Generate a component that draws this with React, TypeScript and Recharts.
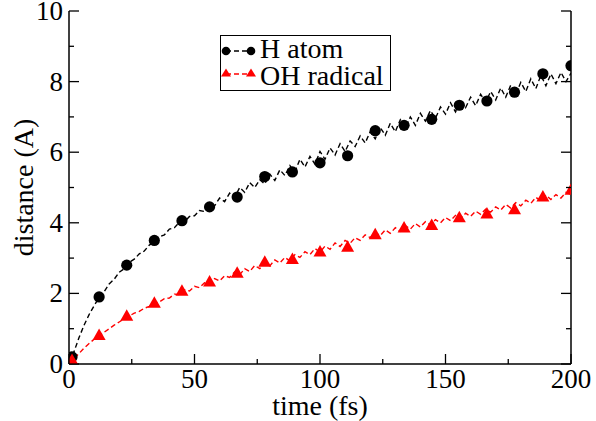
import React from 'react';
import { ComposedChart, Line, Scatter, XAxis, YAxis, Legend } from 'recharts';

const FONT = '"Liberation Serif"';
const TXT = { fontFamily: FONT };

const times = [0, 2, 4, 6, 8, 10, 12, 14, 16, 18, 20, 22, 24, 26, 28, 30, 32, 34, 36, 38, 40, 42, 44, 46, 48, 50, 52, 54, 56, 58, 60, 62, 64, 66, 68, 70, 72, 74, 76, 78, 80, 82, 84, 86, 88, 90, 92, 94, 96, 98, 100, 102, 104, 106, 108, 110, 112, 114, 116, 118, 120, 122, 124, 126, 128, 130, 132, 134, 136, 138, 140, 142, 144, 146, 148, 150, 152, 154, 156, 158, 160, 162, 164, 166, 168, 170, 172, 174, 176, 178, 180, 182, 184, 186, 188, 190, 192, 194, 196, 198, 200];

const hAtomLine = [0.05, 0.35, 0.75, 1.1, 1.4, 1.65, 1.88, 2.05, 2.27, 2.4, 2.6, 2.7, 2.88, 2.97, 3.12, 3.2, 3.37, 3.46, 3.6, 3.66, 3.82, 3.86, 4.02, 4.03, 4.18, 4.2, 4.35, 4.32, 4.5, 4.48, 4.7, 4.6, 4.84, 4.72, 5.0, 4.86, 5.14, 5.0, 5.22, 5.1, 5.38, 5.2, 5.5, 5.34, 5.62, 5.44, 5.8, 5.58, 5.88, 5.66, 6.02, 5.8, 6.12, 5.92, 6.24, 6.02, 6.32, 6.16, 6.46, 6.26, 6.58, 6.38, 6.7, 6.48, 6.82, 6.58, 6.92, 6.68, 7.0, 6.76, 7.1, 6.88, 7.18, 6.96, 7.28, 7.08, 7.4, 7.14, 7.46, 7.26, 7.56, 7.32, 7.64, 7.42, 7.72, 7.48, 7.82, 7.56, 7.9, 7.64, 7.98, 7.72, 8.08, 7.8, 8.18, 7.88, 8.22, 7.94, 8.26, 8.0, 8.24];

const ohLine = [0.0, 0.15, 0.3, 0.45, 0.58, 0.7, 0.8, 0.9, 1.0, 1.1, 1.19, 1.28, 1.36, 1.44, 1.49, 1.58, 1.63, 1.72, 1.76, 1.85, 1.87, 1.98, 1.97, 2.1, 2.07, 2.2, 2.16, 2.3, 2.27, 2.42, 2.35, 2.5, 2.45, 2.61, 2.53, 2.7, 2.62, 2.79, 2.7, 2.86, 2.78, 2.95, 2.86, 3.02, 2.92, 3.1, 3.02, 3.18, 3.1, 3.27, 3.17, 3.34, 3.25, 3.43, 3.33, 3.5, 3.42, 3.58, 3.5, 3.66, 3.58, 3.72, 3.64, 3.8, 3.7, 3.86, 3.76, 3.92, 3.82, 3.98, 3.88, 4.03, 3.94, 4.09, 4.0, 4.15, 4.06, 4.21, 4.12, 4.27, 4.18, 4.33, 4.24, 4.39, 4.3, 4.45, 4.36, 4.52, 4.42, 4.57, 4.48, 4.64, 4.55, 4.72, 4.62, 4.78, 4.66, 4.8, 4.7, 4.86, 4.8];

const markerTimes = [1.2, 12, 23, 34, 45, 56, 67, 78, 89, 100, 111, 122, 133.5, 144.5, 155.5, 166.5, 177.5, 188.8, 200];
const hAtomMarkers = [0.2, 1.9, 2.8, 3.5, 4.06, 4.45, 4.73, 5.31, 5.44, 5.7, 5.9, 6.61, 6.76, 6.93, 7.33, 7.45, 7.7, 8.22, 8.45];
const ohMarkers = [0.1, 0.81, 1.35, 1.72, 2.06, 2.32, 2.57, 2.88, 2.96, 3.17, 3.31, 3.66, 3.85, 3.92, 4.14, 4.25, 4.37, 4.73, 4.92];

const xTicks = [0, 25, 50, 75, 100, 125, 150, 175, 200];
const xMajor = [0, 50, 100, 150, 200];
const yTicks = [0, 1, 2, 3, 4, 5, 6, 7, 8, 9, 10];
const yMajor = [0, 2, 4, 6, 8, 10];
const seriesNames = ['H atom', 'OH radical'];
const xLabel = 'time (fs)';
const yLabel = 'distance (A)';

const lineData = times.map((t, i) => ({ t, h: hAtomLine[i], oh: ohLine[i] }));
const hMarkerData = markerTimes.map((t, i) => ({ t, v: hAtomMarkers[i] }));
const ohMarkerData = markerTimes.map((t, i) => ({ t, v: ohMarkers[i] }));

const MAJ = 10;
const MIN = 5;

const BottomTick = (props: any) => {
  const { x, y, payload } = props;
  const major = xMajor.includes(payload.value);
  return (
    <g>
      <line x1={x} y1={y} x2={x} y2={y - (major ? MAJ : MIN)} stroke="#000" strokeWidth={1.3} />
      {major && (
        <text x={x} y={y + 24} textAnchor="middle" fontSize={27} style={TXT} fill="#000">
          {payload.value}
        </text>
      )}
    </g>
  );
};

const TopTick = (props: any) => {
  const { x, y, payload } = props;
  const major = xMajor.includes(payload.value);
  return <line x1={x} y1={y} x2={x} y2={y + (major ? MAJ : MIN)} stroke="#000" strokeWidth={1.3} />;
};

const LeftTick = (props: any) => {
  const { x, y, payload } = props;
  const major = yMajor.includes(payload.value);
  return (
    <g>
      <line x1={x} y1={y} x2={x + (major ? MAJ : MIN)} y2={y} stroke="#000" strokeWidth={1.3} />
      {major && (
        <text x={x - 6} y={y + 9} textAnchor="end" fontSize={27} style={TXT} fill="#000">
          {payload.value}
        </text>
      )}
    </g>
  );
};

const RightTick = (props: any) => {
  const { x, y, payload } = props;
  const major = yMajor.includes(payload.value);
  return <line x1={x} y1={y} x2={x - (major ? MAJ : MIN)} y2={y} stroke="#000" strokeWidth={1.3} />;
};

const CircleMark = (props: any) => {
  const { cx, cy } = props;
  return <circle cx={cx} cy={cy} r={5.6} fill="#000" />;
};

const TriMark = (props: any) => {
  const { cx, cy } = props;
  return <polygon points={`${cx},${cy - 7} ${cx - 6.5},${cy + 4.5} ${cx + 6.5},${cy + 4.5}`} fill="#ff0000" />;
};

const XLabelContent = (props: any) => {
  const vb = props.viewBox || { x: 69, y: 364, width: 502, height: 57 };
  return (
    <text x={vb.x + vb.width / 2} y={vb.y + 51} textAnchor="middle" fontSize={28} style={TXT} fill="#000">
      {xLabel}
    </text>
  );
};

const YLabelContent = (props: any) => {
  const vb = props.viewBox || { x: 0, y: 11, width: 69, height: 353 };
  const cy = vb.y + vb.height / 2;
  return (
    <text
      x={33}
      y={cy}
      transform={`rotate(-90, 33, ${cy})`}
      textAnchor="middle"
      fontSize={28}
      style={TXT}
      fill="#000"
    >
      {yLabel}
    </text>
  );
};

const LegendContent = () => (
  <svg width={172} height={57} style={{ display: 'block' }}>
    <rect x={0.5} y={0.5} width={170} height={55} fill="#fff" stroke="#000" strokeWidth={1} />
    <line x1={6} y1={16} x2={31} y2={16} stroke="#000" strokeWidth={1.3} strokeDasharray="5 3" />
    <circle cx={6} cy={16} r={4.3} fill="#000" />
    <circle cx={31} cy={16} r={4.3} fill="#000" />
    <text x={40} y={23} fontSize={28} style={TXT} fill="#000">{seriesNames[0]}</text>
    <line x1={6} y1={39} x2={31} y2={39} stroke="#ff0000" strokeWidth={1.3} strokeDasharray="5 3" />
    <polygon points="6,33.5 1,41.5 11,41.5" fill="#ff0000" />
    <polygon points="31,33.5 26,41.5 36,41.5" fill="#ff0000" />
    <text x={40} y={50} fontSize={28} style={TXT} fill="#000">{seriesNames[1]}</text>
  </svg>
);

export default function App() {
  return (
    <div style={{ position: 'absolute', left: 0, top: 0, width: 596, height: 421, background: '#fff', fontFamily: FONT }}>
      <ComposedChart
        width={596}
        height={421}
        data={lineData}
        margin={{ top: 11, right: 0, bottom: 0, left: 0 }}
      >
        <XAxis
          dataKey="t"
          type="number"
          domain={[0, 200]}
          ticks={xTicks}
          interval={0}
          allowDataOverflow
          height={57}
          tickSize={0}
          tickMargin={0}
          tickLine={false}
          tick={<BottomTick />}
          axisLine={{ stroke: '#000', strokeWidth: 1.5 }}
          label={{ content: <XLabelContent /> }}
        />
        <XAxis
          xAxisId="top"
          orientation="top"
          dataKey="t"
          type="number"
          domain={[0, 200]}
          ticks={xTicks}
          interval={0}
          allowDataOverflow
          height={0}
          tickSize={0}
          tickMargin={0}
          tickLine={false}
          tick={<TopTick />}
          axisLine={{ stroke: '#000', strokeWidth: 1.5 }}
        />
        <YAxis
          type="number"
          domain={[0, 10]}
          ticks={yTicks}
          interval={0}
          allowDataOverflow
          width={69}
          tickSize={0}
          tickMargin={0}
          tickLine={false}
          tick={<LeftTick />}
          axisLine={{ stroke: '#000', strokeWidth: 1.5 }}
          label={{ content: <YLabelContent /> }}
        />
        <YAxis
          yAxisId="right"
          orientation="right"
          type="number"
          domain={[0, 10]}
          ticks={yTicks}
          interval={0}
          allowDataOverflow
          width={25}
          tickSize={0}
          tickMargin={0}
          tickLine={false}
          tick={<RightTick />}
          axisLine={{ stroke: '#000', strokeWidth: 1.5 }}
        />
        <Line
          dataKey="h"
          stroke="#000"
          strokeWidth={1.4}
          strokeDasharray="5 3"
          dot={false}
          activeDot={false}
          isAnimationActive={false}
          name={seriesNames[0]}
        />
        <Line
          dataKey="oh"
          stroke="#ff0000"
          strokeWidth={1.4}
          strokeDasharray="5 3"
          dot={false}
          activeDot={false}
          isAnimationActive={false}
          name={seriesNames[1]}
        />
        <Scatter data={hMarkerData} dataKey="v" shape={<CircleMark />} isAnimationActive={false} />
        <Scatter data={ohMarkerData} dataKey="v" shape={<TriMark />} isAnimationActive={false} />
        <Legend
          layout="vertical"
          align="center"
          verticalAlign="middle"
          content={<LegendContent />}
          wrapperStyle={{ position: 'absolute', left: 220, top: 35, width: 172, height: 57 }}
        />
      </ComposedChart>
    </div>
  );
}
